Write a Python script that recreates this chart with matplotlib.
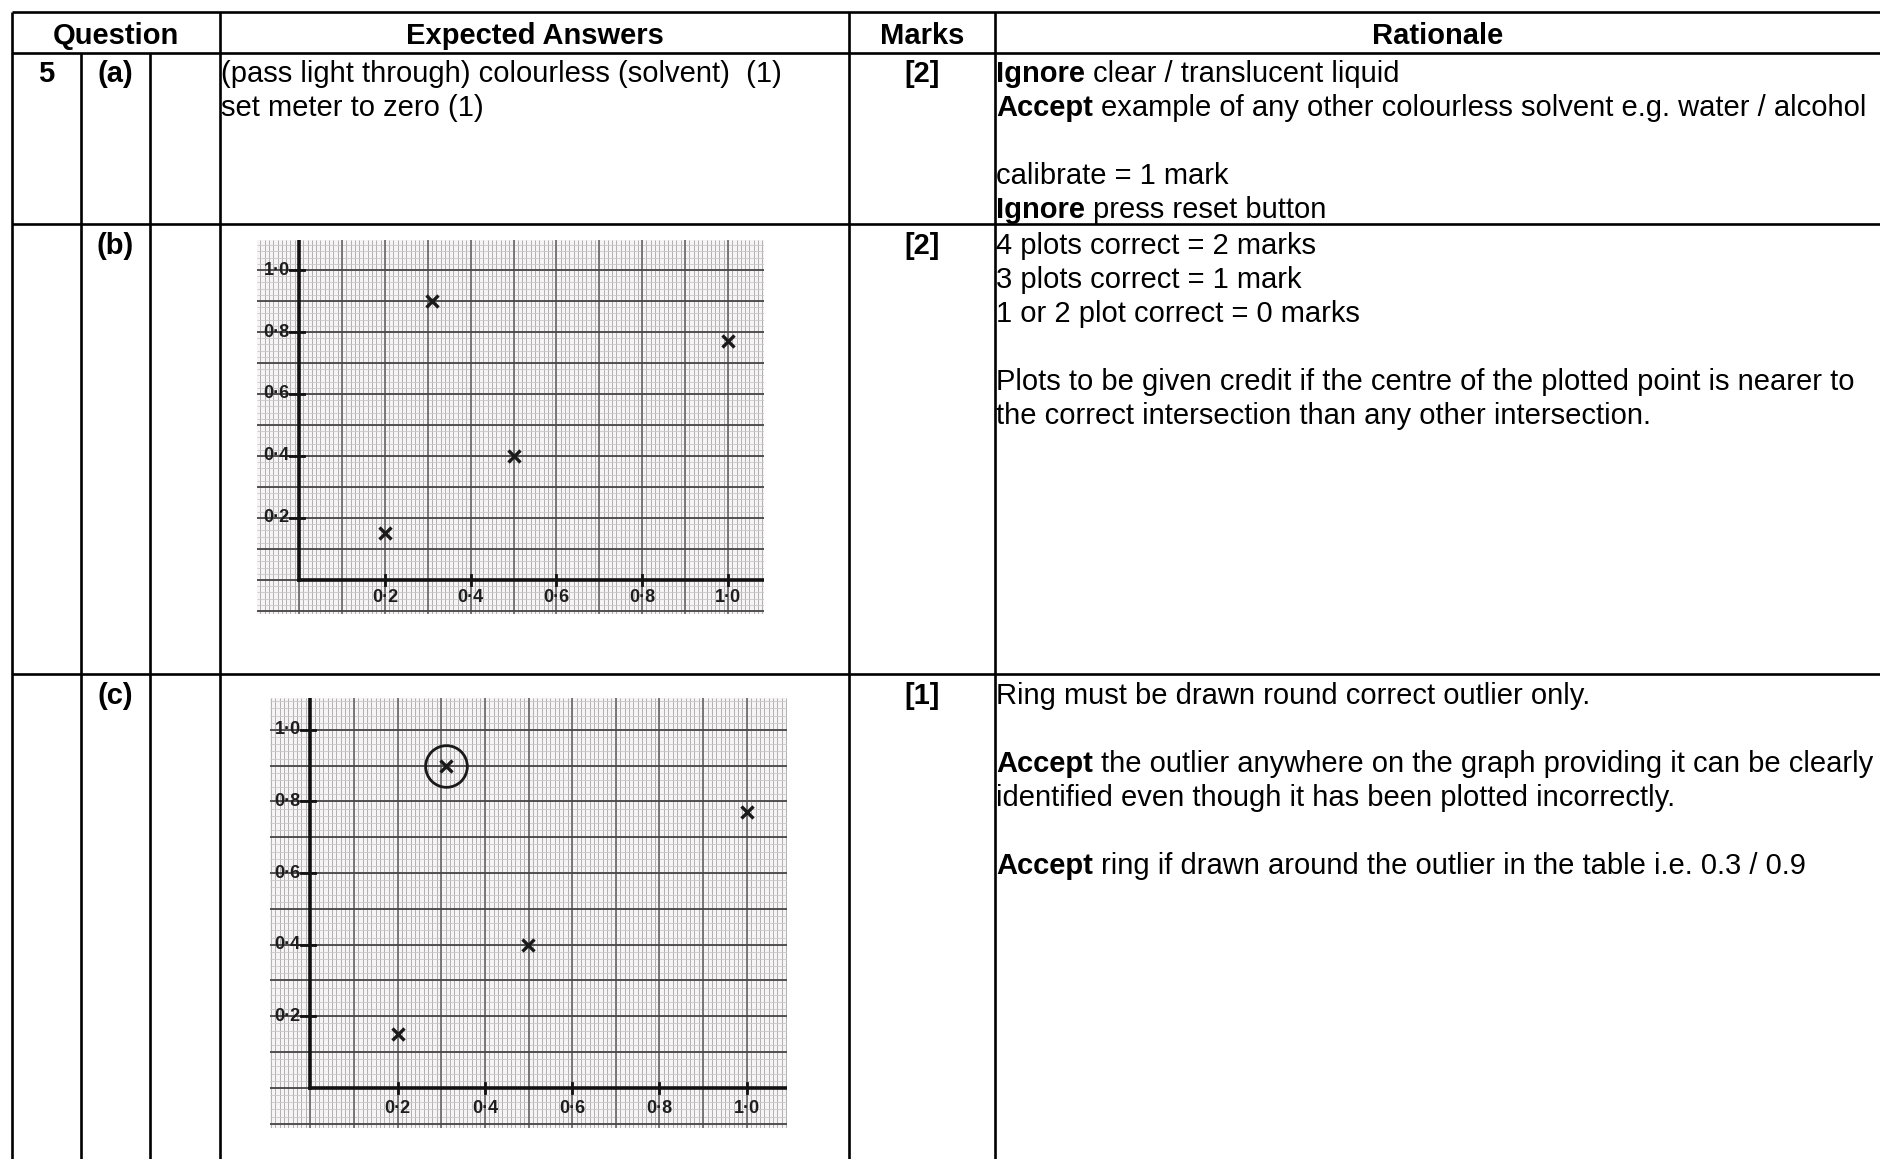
import matplotlib
matplotlib.use("Agg")
import matplotlib.pyplot as plt
import numpy as np

# ---------------- data ----------------
header_labels = ["Question", "Expected Answers", "Marks", "Rationale"]
question_number = "5"
part_labels = ["(a)", "(b)", "(c)"]
marks = ["[2]", "[2]", "[1]"]
answer_a = ["(pass light through) colourless (solvent)  (1)", "set meter to zero (1)"]
rationale_a = [[("Ignore", True), ("clear / translucent liquid", False)],
               [("Accept", True), ("example of any other colourless solvent e.g. water / alcohol", False)],
               [],
               [("calibrate = 1 mark", False)],
               [("Ignore", True), ("press reset button", False)]]
rationale_b = [[("4 plots correct = 2 marks", False)],
               [("3 plots correct = 1 mark", False)],
               [("1 or 2 plot correct = 0 marks", False)],
               [],
               [("Plots to be given credit if the centre of the plotted point is nearer to", False)],
               [("the correct intersection than any other intersection.", False)]]
rationale_c = [[("Ring must be drawn round correct outlier only.", False)],
               [],
               [("Accept", True), ("the outlier anywhere on the graph providing it can be clearly", False)],
               [("identified even though it has been plotted incorrectly.", False)],
               [],
               [("Accept", True), ("ring if drawn around the outlier in the table i.e. 0.3 / 0.9", False)]]

plot_x = [0.2, 0.31, 0.5, 1.0]
plot_y = [0.15, 0.90, 0.40, 0.77]
outlier_index = 1
tick_values = [0.2, 0.4, 0.6, 0.8, 1.0]
tick_labels = ["0·2", "0·4", "0·6", "0·8", "1·0"]

# ---------------- figure ----------------
W, H = 1881, 1159
fig = plt.figure(figsize=(W / 100, H / 100), dpi=100)
fig.patch.set_facecolor("white")
base = fig.add_axes([0, 0, 1, 1])
base.set_xlim(0, W)
base.set_ylim(H, 0)
base.axis("off")

FONT = ["Liberation Sans", "DejaVu Sans"]
FS = 21
LW = 1.9

cols = [12, 81, 150, 220, 849, 995, 1880]
rows = [12, 53, 224, 674]

# horizontal lines
for y in rows:
    base.plot([cols[0], W], [y, y], color="black", lw=LW, solid_capstyle="butt")
# vertical lines
for x in [cols[0], cols[3], cols[4], cols[5]]:
    base.plot([x, x], [rows[0], H], color="black", lw=LW, solid_capstyle="butt")
for x in [cols[1], cols[2]]:
    base.plot([x, x], [rows[1], H], color="black", lw=LW, solid_capstyle="butt")

# header
hdr_centers = [(cols[0] + cols[3]) / 2, (cols[3] + cols[4]) / 2,
               (cols[4] + cols[5]) / 2, 1438]
for cx, lab in zip(hdr_centers, header_labels):
    base.text(cx, 44.5, lab, ha="center", va="baseline", fontsize=FS,
              fontweight="bold", family=FONT)

BASE_OFF = 29.5
LINE = 34
row_tops = [rows[1], rows[2], rows[3]]

base.text((cols[0] + cols[1]) / 2, row_tops[0] + BASE_OFF, question_number,
          ha="center", va="baseline", fontsize=FS, fontweight="bold", family=FONT)
for top, lab, mk in zip(row_tops, part_labels, marks):
    base.text((cols[1] + cols[2]) / 2, top + BASE_OFF, lab, ha="center",
              va="baseline", fontsize=FS, fontweight="bold", family=FONT)
    base.text((cols[4] + cols[5]) / 2, top + BASE_OFF, mk, ha="center",
              va="baseline", fontsize=FS, fontweight="bold", family=FONT)

for i, line in enumerate(answer_a):
    base.text(cols[3] + 1, row_tops[0] + BASE_OFF + i * LINE, line, ha="left",
              va="baseline", fontsize=FS, family=FONT)

SPACE_PT = 0.278 * FS


def rich(x, y, segs):
    prev = None
    for txt, bold in segs:
        w = "bold" if bold else "normal"
        if prev is None:
            prev = base.text(x, y, txt, ha="left", va="baseline", fontsize=FS,
                             fontweight=w, family=FONT)
        else:
            prev = base.annotate(txt, xy=(1, 0), xycoords=prev,
                                 xytext=(SPACE_PT, 0), textcoords="offset points",
                                 ha="left", va="bottom", fontsize=FS,
                                 fontweight=w, family=FONT)


for top, block in zip(row_tops, [rationale_a, rationale_b, rationale_c]):
    for i, segs in enumerate(block):
        if segs:
            rich(cols[5] + 1, top + BASE_OFF + i * LINE, segs)


# ---------------- graph paper plots ----------------
def graph(box, xlim, ylim, ring):
    x0, y0, x1, y1 = box
    ax = fig.add_axes([x0 / W, 1 - y1 / H, (x1 - x0) / W, (y1 - y0) / H])
    ax.set_xlim(*xlim)
    ax.set_ylim(*ylim)
    ax.set_facecolor("#f6f4f4")
    for s in ax.spines.values():
        s.set_visible(False)
    ax.set_xticks([])
    ax.set_yticks([])
    # minor grid
    xs = np.arange(-0.1, 1.1001, 0.01)
    ys = np.arange(-0.1, 1.1001, 0.02)
    ax.vlines(xs, *ylim, color="#b0b0b0", lw=0.7, zorder=1)
    ax.hlines(ys, *xlim, color="#c8c8c8", lw=0.6, zorder=1)
    # major grid
    xm = np.arange(-0.1, 1.1001, 0.1)
    ym = np.arange(-0.1, 1.1001, 0.1)
    ax.vlines(xm, *ylim, color="#707070", lw=1.3, zorder=2)
    ax.hlines(ym, *xlim, color="#454545", lw=1.3, zorder=2)
    # axes
    ax.plot([0, 0], [0, ylim[1]], color="#111111", lw=2.6, zorder=3)
    ax.plot([0, xlim[1]], [0, 0], color="#111111", lw=2.6, zorder=3)
    for v, lab in zip(tick_values, tick_labels):
        ax.plot([v, v], [-0.015, 0.015], color="#111111", lw=2.0, zorder=3)
        ax.text(v, -0.058, lab, ha="center", va="center", fontsize=13,
                fontweight="bold", color="#1e1e1e", family=FONT, zorder=4)
        ax.plot([-0.02, 0.012], [v, v], color="#111111", lw=2.0, zorder=3)
        ax.text(-0.052, v, lab, ha="center", va="center", fontsize=13,
                fontweight="bold", color="#1e1e1e", family=FONT, zorder=4)
    ax.plot(plot_x, plot_y, linestyle="none", marker="x", markersize=8,
            mew=2.4, color="#1a1a1a", zorder=5)
    if ring:
        ax.plot([plot_x[outlier_index]], [plot_y[outlier_index]],
                linestyle="none", marker="o", markersize=30, mfc="none",
                mec="#1a1a1a", mew=2.0, zorder=5)
    return ax


graph((257, 240, 764, 614), (-0.098, 1.084), (-0.11, 1.097), ring=False)
graph((270, 698, 787, 1128), (-0.092, 1.092), (-0.112, 1.089), ring=True)

fig.savefig("out.png", dpi=100, facecolor="white")
